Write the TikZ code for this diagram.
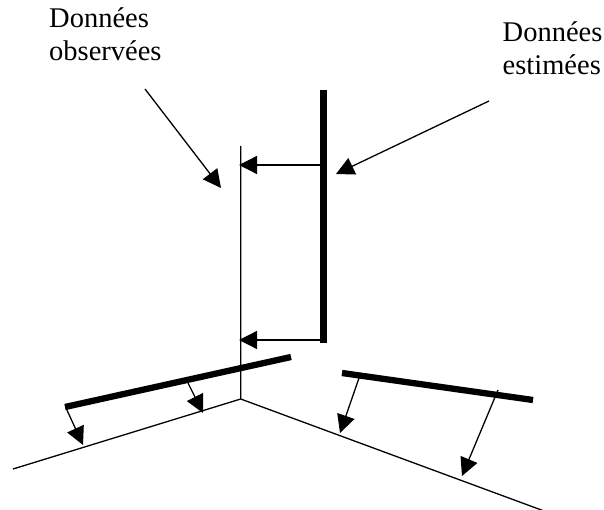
\documentclass[tikz,border=0pt]{standalone}
\usepackage{fontspec}
\setmainfont{Liberation Serif}
\usetikzlibrary{arrows.meta}
\begin{document}
\begin{tikzpicture}[x=1pt,y=-1pt,
 thin line/.style={line width=1.3pt,black},
 thick line/.style={line width=6.3pt,black},
 arrow line/.style={line width=1.3pt,black,-{Triangle[length=18pt,width=18pt]}},
 label text/.style={font=\fontsize{28.5pt}{33pt}\selectfont,align=left,inner sep=0pt,anchor=base west}]
\useasboundingbox (0,0) rectangle (604,510);
\fill[white] (0,0) rectangle (604,510);
\node[label text] (obs) at (49,60.5) {Données\\observées};
\node[label text] (est) at (502.5,74.5) {Données\\estimées};
\coordinate (c) at (240.7,399);
\coordinate (vt) at (240.7,146);
\coordinate (ll) at (13,469);
\coordinate (rl) at (563,518);
\draw[thin line] (vt)--(c)--(ll);
\draw[thin line] (c)--(rl);
\coordinate (v1a) at (323.5,90);\coordinate (v1b) at (323.5,343);
\draw[thick line] (v1a)--(v1b);
\coordinate (l1a) at (65,407);\coordinate (l1b) at (291,357);
\draw[thick line] (l1a)--(l1b);
\coordinate (r1a) at (342,373);\coordinate (r1b) at (533,400);
\draw[thick line] (r1a)--(r1b);
\coordinate (a1s) at (321,165);\coordinate (a1e) at (239,165);
\coordinate (a2s) at (321,340);\coordinate (a2e) at (239,340);
\draw[arrow line] (a1s)--(a1e);
\draw[arrow line] (a2s)--(a2e);
\coordinate (b1s) at (145,89);\coordinate (b1e) at (221,188);
\draw[arrow line] (b1s)--(b1e);
\coordinate (b2s) at (489,101);\coordinate (b2e) at (336,174);
\draw[arrow line] (b2s)--(b2e);
\coordinate (d1s) at (66,408);\coordinate (d1e) at (83,445);
\coordinate (d2s) at (188,383);\coordinate (d2e) at (203,413);
\coordinate (d3s) at (359,378);\coordinate (d3e) at (340,433);
\coordinate (d4s) at (498,390);\coordinate (d4e) at (462,476);
\draw[arrow line] (d1s)--(d1e);
\draw[arrow line] (d2s)--(d2e);
\draw[arrow line] (d3s)--(d3e);
\draw[arrow line] (d4s)--(d4e);
\end{tikzpicture}
\end{document}
